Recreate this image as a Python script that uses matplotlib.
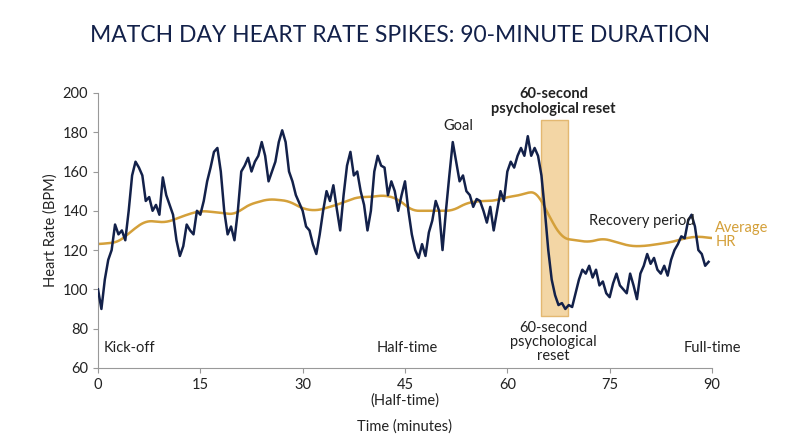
import matplotlib
matplotlib.use("Agg")
import matplotlib.pyplot as plt
import numpy as np

plt.rcParams['font.family'] = ['Lato', 'DejaVu Sans']

hr_t = [0,0.5,1,1.5,2,2.5,3,3.5,4,4.5,5,5.5,6,6.5,7,7.5,8,8.5,9,9.5,10,11,11.5,12,12.5,13,13.5,14,14.5,15,15.5,16,16.5,17,17.5,18,18.5,19,19.5,20,20.5,21,21.5,22,22.5,23,23.5,24,24.5,25,26,26.5,27,27.5,28,28.5,29,30,30.5,31,31.5,32,32.5,33,33.5,34,34.5,35,35.5,36,36.5,37,37.5,38,38.5,39,39.5,40,40.5,41,41.5,42,42.5,43,43.5,44,44.5,45,45.5,46,46.5,47,47.5,48,48.5,49,49.5,50,50.5,51,51.5,52,52.5,53,53.5,54,54.5,55,55.5,56,56.5,57,57.5,58,58.5,59,59.5,60,60.5,61,61.5,62,62.5,63,63.5,64,64.5,65,65.5,66,66.5,67,67.5,68,68.5,69,69.5,70,70.5,71,71.5,72,72.5,73,73.5,74,74.5,75,75.5,76,76.5,77,77.5,78,78.5,79,79.5,80,80.5,81,81.5,82,82.5,83,83.5,84,84.5,85,85.5,86,86.5,87,87.5,88,88.5,89,89.5]
hr_v = [100,90,105,115,120,133,128,130,125,140,158,165,162,158,145,147,140,143,138,157,148,138,125,117,122,133,130,128,140,138,145,155,162,170,172,160,140,128,132,125,140,160,163,167,160,165,168,175,168,155,165,175,181,175,160,155,148,140,132,130,123,118,128,140,150,145,153,141,130,148,163,170,158,160,150,143,130,140,160,168,163,162,148,155,150,140,148,155,140,128,120,116,123,117,129,135,145,140,120,140,158,175,165,155,158,150,148,142,146,145,140,134,142,130,140,150,145,160,165,162,168,172,168,178,168,172,168,158,140,120,105,97,92,93,90,92,91,98,105,110,108,112,106,110,102,104,98,96,103,108,102,100,98,108,102,95,108,112,118,113,116,110,108,112,107,115,120,123,127,126,135,138,132,120,118,112,114]
avg_t = [0,3,5,7,10,13,15,18,20,22,25,28,30,32,35,38,40,42,44,46,48,50,52,54,56,58,60,62,63.5,64.5,66,68,70,72,74,76,78,80,82,84,86,88,90]
avg_v = [123,124,130,135,134,138,140,139,138,143,146,145,141,140,143,147,147,148,146,140,140,140,140,144,145,145,147,148,150,149,138,126,125,124,126,124,122,122,123,124,126,127,126]
reset_start, reset_end = 65.0, 68.9
reset_lo, reset_hi = 86.5, 186

navy = '#13214a'
gold = '#d4a03a'

# smooth rendering of the average line
td = np.linspace(0, 90, 901)
vd = np.interp(td, avg_t, avg_v)
k = 21
pad = np.pad(vd, k // 2, mode='edge')
vs = np.convolve(pad, np.ones(k) / k, mode='valid')

fig = plt.figure(figsize=(8, 4.47), dpi=100)
ax = fig.add_axes([0.1225, 0.177, 0.7675, 0.615])
ax.fill_between([reset_start, reset_end], reset_lo, reset_hi, color='#f2cf95', alpha=0.85,
                edgecolor='#e0b060', linewidth=1, zorder=1)
ax.plot(td, vs, color=gold, lw=1.8, zorder=2)
ax.plot(hr_t, hr_v, color=navy, lw=1.8, zorder=3)

ax.set_xlim(0, 90)
ax.set_ylim(60, 200)
ax.set_xticks([0, 15, 30, 45, 60, 75, 90])
ax.set_xticklabels(['0', '15', '30', '45\n(Half-time)', '60', '75', '90'])
ax.set_yticks(range(60, 201, 20))
for s in ['top', 'right']:
    ax.spines[s].set_visible(False)
for s in ['left', 'bottom']:
    ax.spines[s].set_color('#999999')
ax.tick_params(colors='#222222', labelsize=10.5, color='#999999')
ax.set_xlabel('Time (minutes)', fontsize=10.5, color='#222222', labelpad=8)
ax.set_ylabel('Heart Rate (BPM)', fontsize=10.5, color='#222222')

fig.text(0.5, 0.905, 'MATCH DAY HEART RATE SPIKES: 90-MINUTE DURATION', ha='center',
         fontsize=16.5, color=navy)

tc = '#222222'
ax.text(0.8, 68, 'Kick-off', fontsize=10.5, color=tc)
ax.text(45.3, 68, 'Half-time', fontsize=10.5, color=tc, ha='center')
ax.text(90, 68, 'Full-time', fontsize=10.5, color=tc, ha='center')
ax.text(52.8, 181, 'Goal', fontsize=10.5, color=tc, ha='center')
ax.text(66.8, 190, '60-second\npsychological reset', fontsize=10.5, color=tc, ha='center',
        fontweight='bold', linespacing=1.1)
ax.text(66.8, 84, '60-second\npsychological\nreset', fontsize=10.5, color=tc, ha='center',
        va='top', linespacing=1.0)
ax.text(79.7, 133, 'Recovery period', fontsize=10.5, color=tc, ha='center')
ax.text(90.5, 122, 'Average\nHR', fontsize=10.5, color=gold, ha='left', linespacing=1.0,
        clip_on=False)

fig.savefig('out.png', dpi=100)
